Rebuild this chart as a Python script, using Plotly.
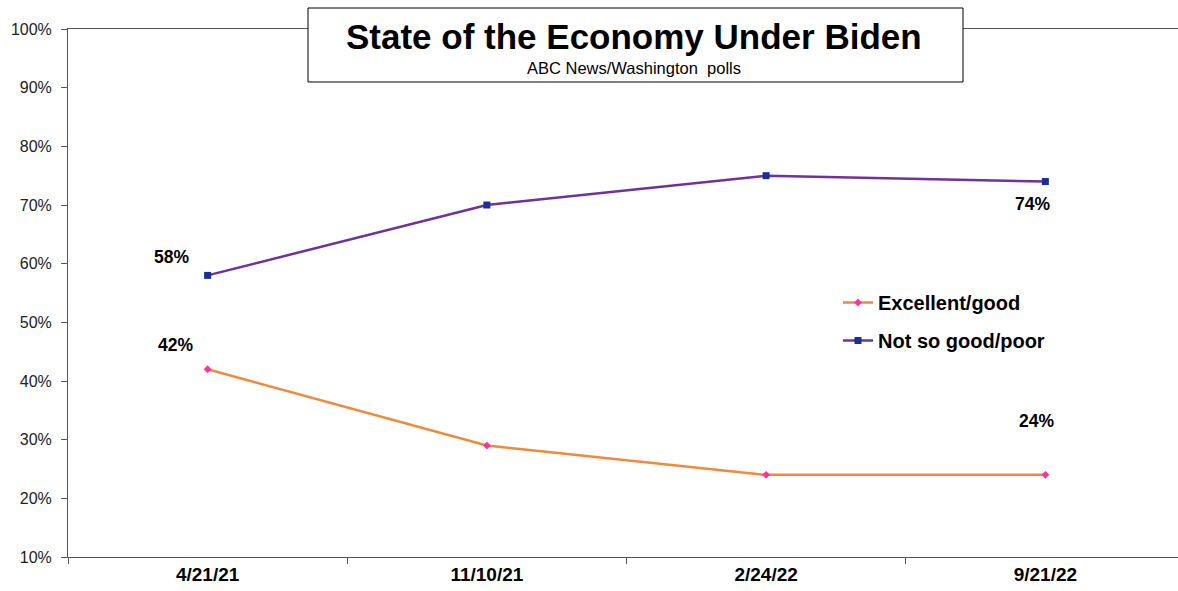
import plotly.graph_objects as go

dates = ["4/21/21", "11/10/21", "2/24/22", "9/21/22"]
excellent_good = [42, 29, 24, 24]
not_so_good_poor = [58, 70, 75, 74]
y_ticks = [10, 20, 30, 40, 50, 60, 70, 80, 90, 100]
y_tick_labels = [f"{v}%" for v in y_ticks]

W, H = 1178, 591
L, R, T, B = 68, 0, 29, 34
pw, ph = W - L - R, H - T - B

def px(x):
    return (x - L) / pw

def py(y):
    return (H - B - y) / ph

fig = go.Figure()
fig.add_trace(go.Scatter(
    x=dates, y=excellent_good, name="Excellent/good", mode="lines+markers",
    line=dict(color="#F4883A", width=2.5),
    marker=dict(symbol="diamond", size=6, color="#FF3399"),
    legendgroup="a",
))
fig.add_trace(go.Scatter(
    x=dates, y=not_so_good_poor, name="Not so good/poor", mode="lines+markers",
    line=dict(color="#7030A0", width=2.5),
    marker=dict(symbol="square", size=7, color="#1A2E99"),
    legendgroup="b",
))

label_font = dict(family="Liberation Sans, Arial", size=17.5, color="black")
# data labels
fig.add_annotation(x=dates[0], y=not_so_good_poor[0], text="<b>58%</b>", showarrow=False,
                   xshift=-36, yshift=18, font=label_font)
fig.add_annotation(x=dates[0], y=excellent_good[0], text="<b>42%</b>", showarrow=False,
                   xshift=-32, yshift=24, font=label_font)
fig.add_annotation(x=dates[3], y=not_so_good_poor[3], text="<b>74%</b>", showarrow=False,
                   xshift=-13, yshift=-22, font=label_font)
fig.add_annotation(x=dates[3], y=excellent_good[3], text="<b>24%</b>", showarrow=False,
                   xshift=-9, yshift=54, font=label_font)

# title box
fig.add_shape(type="rect", xref="paper", yref="paper",
              x0=px(308), x1=px(963), y0=py(82), y1=py(8),
              fillcolor="white", line=dict(color="black", width=1), layer="above")
fig.add_annotation(xref="paper", yref="paper", x=px(634), y=py(37),
                   text="<b>State of the Economy Under Biden</b>", showarrow=False,
                   font=dict(family="Liberation Sans, Arial", size=35, color="black"),
                   xanchor="center", yanchor="middle")
fig.add_annotation(xref="paper", yref="paper", x=px(634), y=py(68),
                   text="ABC News/Washington  polls", showarrow=False,
                   font=dict(family="Liberation Sans Narrow, Arial Narrow, Liberation Sans", size=16.5, color="black"),
                   xanchor="center", yanchor="middle")

fig.update_layout(
    width=W, height=H,
    margin=dict(l=L, r=R, t=T, b=B, pad=0),
    plot_bgcolor="white", paper_bgcolor="white",
    showlegend=True,
    legend=dict(x=px(838), y=py(283), xanchor="left", yanchor="top",
                font=dict(family="Liberation Sans, Arial", size=20, color="black", weight="bold"),
                bgcolor="rgba(0,0,0,0)", tracegroupgap=9, traceorder="grouped",
                itemwidth=30),
    xaxis=dict(
        type="category", range=[-0.5, 3.475],
        showline=True, linecolor="#555", linewidth=1, mirror=True,
        ticks="outside", tickson="boundaries", ticklen=6, tickcolor="#555",
        showgrid=False, zeroline=False,
        tickfont=dict(family="Liberation Sans, Arial", size=19, color="black", weight="bold"),
    ),
    yaxis=dict(
        range=[10, 100], tickvals=y_ticks, ticktext=y_tick_labels,
        showline=True, linecolor="#555", linewidth=1,
        ticks="outside", ticklen=6, tickcolor="#555",
        showgrid=False, zeroline=False, ticklabelstandoff=6,
        tickfont=dict(family="Liberation Sans, Arial", size=16, color="#222"),
    ),
)

fig.write_html("out.html", config={"displayModeBar": False},
               post_script="document.body.style.margin='0';document.body.style.overflow='hidden';")
